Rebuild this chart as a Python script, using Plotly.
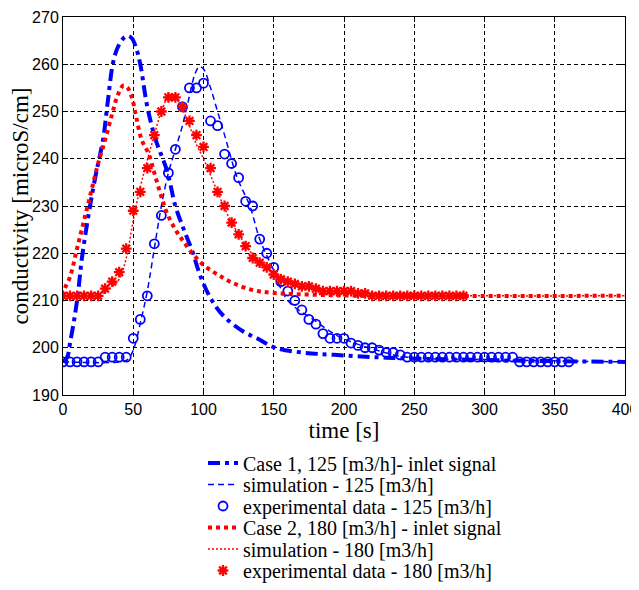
import plotly.graph_objects as go

# ---- Case 1 inlet signal (125 m3/h)
t_in1 = [0, 3, 5, 8, 10.7, 13.3, 17, 21, 25, 28.5, 32, 35.6, 39, 43, 46, 49, 52, 55, 60, 66, 74, 80, 86, 92, 98, 106, 115, 128, 138, 151, 170, 193, 230, 300, 400]
v_in1 = [197, 198, 201, 206, 211.6, 218.6, 226, 233, 239, 244, 252.4, 260.3, 263.6, 265.5, 266, 265.5, 263.5, 260, 251, 244, 237.5, 230, 225, 220.5, 215, 210, 206.5, 203.5, 202, 200, 199, 198.5, 197.9, 197.4, 197]

# ---- simulation 125
t_sim1 = [0, 40, 46, 50, 56, 60, 65, 70, 75, 80, 85, 89, 94, 97, 100, 105, 110, 115, 124, 133, 140, 149, 160, 178, 197, 223, 245, 300, 400]
v_sim1 = [197, 197, 197.5, 199.5, 206.5, 212, 221, 230, 237, 242, 247, 252, 258, 259.5, 259, 255, 250, 245, 236, 230, 223, 217, 210, 206, 202.3, 199.5, 198, 197.5, 197]

# ---- experimental 125
t_exp1 = list(range(0, 365, 5))
v_exp1 = [197, 197, 197, 197, 197, 197, 198, 198, 198, 198,
          202, 206, 211, 222, 228, 237, 242, 251, 255, 255,
          256, 248, 247, 241, 239, 236, 231, 230, 223, 220,
          217, 214, 212, 210, 208, 206, 205, 203, 202, 202,
          202, 201, 200.5, 200, 200, 199.5, 199, 199, 198.5, 198,
          198, 198, 198, 198, 198, 198, 198, 198, 198, 198,
          198, 198, 198, 198, 198, 197, 197, 197, 197, 197,
          197, 197, 197]

# ---- Case 2 inlet signal (180 m3/h)
t_in2 = [0, 1.5, 5, 10, 15, 20, 25, 30, 35, 39, 43, 46, 49, 52, 56, 61, 65, 70, 74, 80, 85, 92, 100, 110, 121, 135, 150, 180, 220, 400]
v_in2 = [211, 212.7, 215, 221, 227, 233, 239, 244, 249.5, 253.5, 255.5, 255, 253, 249, 244, 241, 237, 232, 228.5, 225, 222.8, 220, 217.5, 215.5, 213.7, 212.2, 211.6, 211.2, 211, 211]

# ---- simulation 180
t_sim2 = [0, 25, 30, 35, 40, 45, 50, 55, 60, 65, 70, 76, 80, 85, 90, 95, 100, 105, 110, 115, 120, 125, 131, 140, 150, 160, 183, 206, 242, 300, 400]
v_sim2 = [211, 211.2, 211.8, 213, 214.5, 219, 227, 234, 239.7, 245, 250, 253.5, 253, 250.5, 247, 243, 240, 236.5, 233, 229.5, 226.5, 224, 221.3, 218, 216, 214.3, 212.2, 211.6, 211.2, 211, 211]

# ---- experimental 180
t_exp2 = list(range(0, 290, 5))
v_exp2 = [211, 211, 211, 211, 211, 211, 212.5, 214, 216, 221,
          229, 233, 238, 245, 250, 253, 253, 251, 248, 245,
          242.5, 238, 233, 230, 226.5, 224, 221.5, 219, 218, 217,
          215.5, 214.5, 214, 213.5, 213, 213, 212.5, 212, 212, 212,
          212, 212, 211.5, 211.5, 211, 211, 211, 211, 211, 211,
          211, 211, 211, 211, 211, 211, 211, 211]

x_ticks = [0, 50, 100, 150, 200, 250, 300, 350, 400]
y_ticks = [190, 200, 210, 220, 230, 240, 250, 260, 270]

legend_names = ["Case 1, 125 [m3/h]- inlet signal",
                "simulation - 125 [m3/h]",
                "experimental data - 125 [m3/h]",
                "Case 2, 180 [m3/h] - inlet signal",
                "simulation - 180 [m3/h]",
                "experimental data - 180 [m3/h]"]

BLUE = "#0000ff"
RED = "#ff0000"
SERIF = "Liberation Serif, Times New Roman, serif"
# the page adds an 8 px body margin; the figure is laid out so that the plot
# area lands at x 63..625, y 17..395 in the 639x590 window
W, H = 639, 600
ML, MT = 55, 9
PW, PH = 562, 378
MR, MB = W - ML - PW, H - MT - PH

fig = go.Figure()
fig.add_trace(go.Scatter(x=t_in1, y=v_in1, mode="lines", name=legend_names[0], legend="legend",
                         line=dict(color=BLUE, width=4, dash="12px,5px,4px,5px", shape="spline")))
fig.add_trace(go.Scatter(x=t_sim1, y=v_sim1, mode="lines", name=legend_names[1], legend="legend2",
                         line=dict(color=BLUE, width=1.5, dash="6px,4px", shape="spline")))
fig.add_trace(go.Scatter(x=t_exp1, y=v_exp1, mode="markers", name=legend_names[2], legend="legend3",
                         marker=dict(symbol="circle-open", size=9, color=BLUE, line=dict(width=1.8, color=BLUE))))
fig.add_trace(go.Scatter(x=t_in2, y=v_in2, mode="lines", name=legend_names[3], legend="legend4",
                         line=dict(color=RED, width=4, dash="4px,4px", shape="spline")))
fig.add_trace(go.Scatter(x=t_sim2, y=v_sim2, mode="lines", name=legend_names[4], legend="legend5",
                         line=dict(color=RED, width=1.5, dash="2px,2px", shape="spline")))
fig.add_trace(go.Scatter(x=t_exp2, y=v_exp2, mode="markers", name=legend_names[5], legend="legend6",
                         marker=dict(symbol="asterisk-open", size=9, color=RED, line=dict(width=2.3, color=RED))))

axis_common = dict(showline=True, mirror="ticks", linecolor="black", linewidth=1,
                   ticks="inside", ticklen=5, tickcolor="black",
                   showgrid=True, gridcolor="black", griddash="4px,3px", gridwidth=1,
                   zeroline=False, automargin=False,
                   tickfont=dict(family="Liberation Sans, Arial", size=16, color="black"),
                   title_font=dict(family=SERIF, size=23, color="black"))

fig.update_xaxes(range=[0, 400], tickvals=x_ticks, title_text="time [s]", title_standoff=4, **axis_common)
fig.update_yaxes(range=[190, 270], tickvals=y_ticks, title_text="conductivity [microS/cm]", title_standoff=2, **axis_common)

# one legend per row so that rows sit at the reference's spacing
row_y = [455, 476.5, 498, 519.5, 541, 562.5]
legend_layout = {}
for i, ry in enumerate(row_y):
    key = "legend" if i == 0 else f"legend{i + 1}"
    legend_layout[key] = dict(x=(195 - ML) / PW, y=(MT + PH - ry) / PH,
                              xanchor="left", yanchor="middle",
                              font=dict(family=SERIF, size=20, color="black"),
                              bgcolor="rgba(0,0,0,0)", borderwidth=0)

fig.update_layout(
    width=W, height=H,
    margin=dict(l=ML, r=MR, t=MT, b=MB),
    paper_bgcolor="white", plot_bgcolor="white",
    showlegend=True,
    **legend_layout,
)

fig.write_html("out.html",
               post_script="document.documentElement.style.overflow='hidden';document.body.style.overflow='hidden';")
